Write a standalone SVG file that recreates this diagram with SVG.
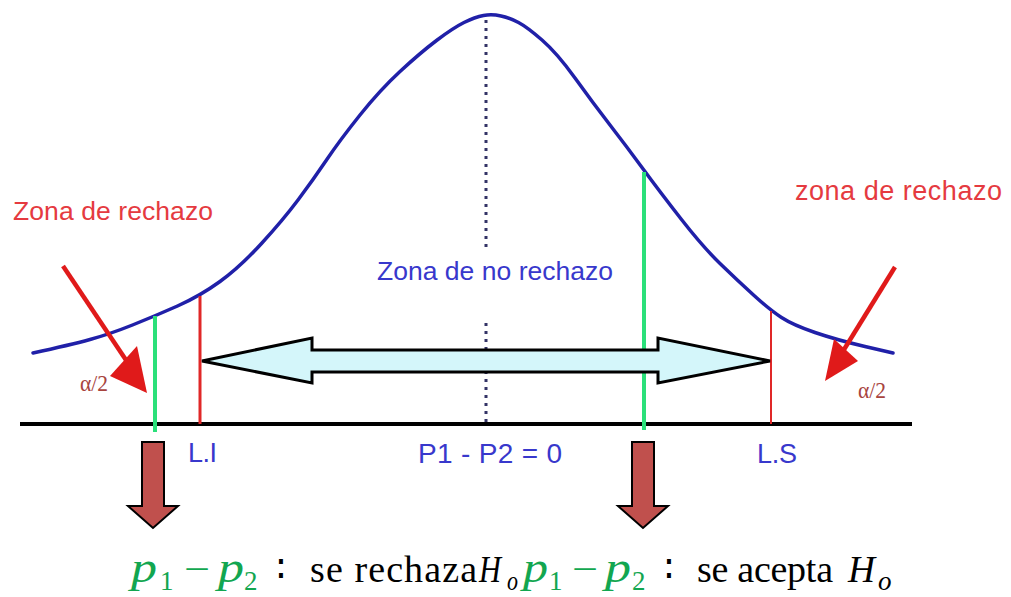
<svg xmlns="http://www.w3.org/2000/svg" width="1011" height="597" viewBox="0 0 1011 597">
<style>
.red{font-family:"Liberation Sans",Arial,sans-serif;fill:#e53a40}
.blue{font-family:"Liberation Sans",Arial,sans-serif;fill:#3838cc}
.alpha{font-family:"Liberation Serif","DejaVu Serif",serif;fill:#a8443e;font-size:24px}
.m{font-family:"Liberation Serif","DejaVu Serif",serif;font-size:38px;fill:#000}
.g{fill:#12a650}
.it{font-style:italic}
.p{font-size:44px}
.sub{font-size:27px}
.green{stroke:#2be07a;stroke-width:4;fill:none}
.lim{stroke:#e02828;fill:none}
.rarrow{stroke:#e01a1a;stroke-width:4.5;fill:none}
.rhead{fill:#e01a1a;stroke:none}
.block{fill:#c0504d;stroke:#000;stroke-width:2;stroke-linejoin:miter}
.dot{stroke:#333366;stroke-width:3;stroke-dasharray:3 5;fill:none}
</style>
<rect width="1011" height="597" fill="#fff"/>
<g id="axis">
<line x1="20" y1="424" x2="912" y2="424" stroke="#000" stroke-width="4"/>
</g>
<g id="center-line">
<line class="dot" x1="486" y1="20" x2="486" y2="250"/>
<line class="dot" x1="486" y1="323" x2="486" y2="423"/>
</g>
<g id="curve">
<path d="M33,353 Q70,345 90,339.5 Q110,334 132.5,325 Q155,316 177.5,306 Q200,296 220,281.5 Q240,267 261.5,243.5 Q283,220 298,200 Q313,180 326.5,160 Q340,140 360,115 Q380,90 400,71.5 Q420,53 436.5,40.5 Q453,28 464,22.5 Q475,17 483.5,15.5 Q492,14 501,16 Q510,18 518.5,22.5 Q527,27 542,40 Q557,53 575,78 Q593,103 610,125 Q627,147 643.5,169.5 Q660,192 681.5,219.5 Q703,247 720,263.5 Q737,280 753.5,295 Q770,310 781.5,317.5 Q793,325 815,332.5 Q837,340 865,346.5 L893,353" fill="none" stroke="#2020a8" stroke-width="3.5" stroke-linecap="round" stroke-linejoin="round"/>
</g>
<g id="limit-LI">
<line class="lim" x1="200" y1="296" x2="200" y2="424" stroke-width="3"/>
<text class="blue" x="188" y="462" font-size="27" textLength="29">L.I</text>
</g>
<g id="limit-LS">
<line class="lim" x1="771" y1="311" x2="771" y2="424" stroke-width="2"/>
<text class="blue" x="757" y="463" font-size="27" textLength="40">L.S</text>
</g>
<g id="green-left">
<line class="green" x1="155" y1="316" x2="155" y2="432"/>
</g>
<g id="green-right">
<line class="green" x1="644" y1="172" x2="644" y2="430"/>
</g>
<g id="label-left">
<text class="red" x="13" y="220" font-size="26.5" textLength="200">Zona de rechazo</text>
<text class="alpha" x="80" y="391" textLength="28" lengthAdjust="spacingAndGlyphs">α/2</text>
</g>
<g id="label-right">
<text class="red" x="795" y="200" font-size="27" textLength="207">zona de rechazo</text>
<text class="alpha" x="858" y="398" textLength="28" lengthAdjust="spacingAndGlyphs">α/2</text>
</g>
<g id="label-center">
<text class="blue" x="377" y="280" font-size="26.5" textLength="236">Zona de no rechazo</text>
<text class="blue" x="418" y="463" font-size="28" textLength="144">P1 - P2 = 0</text>
</g>
<g id="connectors">
<polygon points="202,361 312,338 312,350 658,350 658,338 770,361 658,383 658,372 312,372 312,383" fill="#d4f6fa" stroke="#000" stroke-width="3" stroke-linejoin="miter"/>
<line class="rarrow" x1="63" y1="266" x2="130" y2="366"/>
<polygon class="rhead" points="147,393 137,346 110,376"/>
<line class="rarrow" x1="895" y1="267" x2="840" y2="356"/>
<polygon class="rhead" points="825,381 834,339 858,361"/>
<polygon class="block" points="142,442 164,442 164,506 178,506 153,528 128,506 142,506"/>
<polygon class="block" points="632,442 654,442 654,506 668,506 643,528 618,506 632,506"/>
</g>
<g id="formula">
<text class="m g it p" x="131" y="582" textLength="26" lengthAdjust="spacingAndGlyphs">p</text>
<text class="m g sub" x="160" y="590">1</text>
<text class="m g" x="184" y="582" textLength="26" lengthAdjust="spacingAndGlyphs">−</text>
<text class="m g it p" x="218" y="582" textLength="26" lengthAdjust="spacingAndGlyphs">p</text>
<text class="m g sub" x="244" y="590">2</text>
<text class="m" x="276" y="582">∶</text>
<text class="m" x="310" y="582" textLength="167">se rechaza</text>
<text class="m it" x="479" y="582" textLength="22" lengthAdjust="spacingAndGlyphs">H</text>
<text class="m it sub" x="507" y="590" textLength="11" lengthAdjust="spacingAndGlyphs">o</text>
<text class="m g it p" x="523" y="582" textLength="25" lengthAdjust="spacingAndGlyphs">p</text>
<text class="m g sub" x="549" y="590">1</text>
<text class="m g" x="572" y="582" textLength="26" lengthAdjust="spacingAndGlyphs">−</text>
<text class="m g it p" x="605" y="582" textLength="26" lengthAdjust="spacingAndGlyphs">p</text>
<text class="m g sub" x="632" y="590">2</text>
<text class="m" x="664" y="582">∶</text>
<text class="m" x="697" y="582" textLength="136">se acepta</text>
<text class="m it" x="848" y="582" textLength="27" lengthAdjust="spacingAndGlyphs">H</text>
<text class="m it sub" x="878" y="590">o</text>
</g>
</svg>
